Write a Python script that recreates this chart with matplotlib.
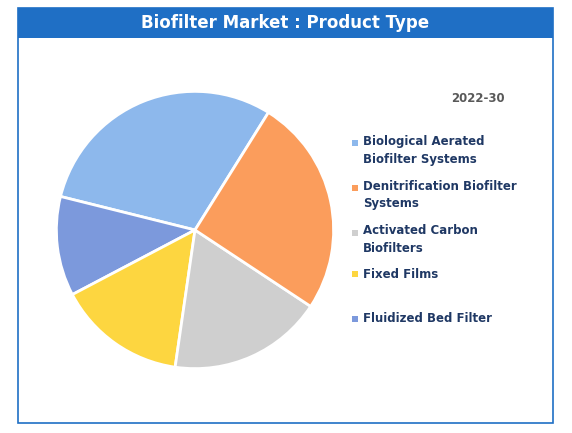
import matplotlib.pyplot as plt
from matplotlib.patches import Rectangle

# data
segments = ["Biological Aerated\nBiofilter Systems", "Denitrification Biofilter\nSystems",
            "Activated Carbon\nBiofilters", "Fixed Films", "Fluidized Bed Filter"]
shares = [30, 25.4, 18, 15, 11.6]
colors = ["#8db8ec", "#fb9d5c", "#cfcfcf", "#fdd640", "#7c99dc"]

# pie drawn counterclockwise from the top-right edge of the first slice
pie_order = [0, 4, 3, 2, 1]

fig = plt.figure(figsize=(5.72, 4.33), dpi=100)
W, H = 572, 433

# frame + title band
fig.add_artist(Rectangle((18 / W, 1 - 423 / H), 535 / W, 415 / H, transform=fig.transFigure,
                         fill=False, edgecolor="#1f6fc5", linewidth=1.2))
fig.add_artist(Rectangle((18 / W, 1 - 38 / H), 535 / W, 30 / H, transform=fig.transFigure,
                         facecolor="#1f6fc5", edgecolor="none"))
fig.text(285 / W, 1 - 23 / H, "Biofilter Market : Product Type", ha="center", va="center",
         color="white", fontsize=12, fontweight="bold")

# pie
ax = fig.add_axes([(195 - 140) / W, 1 - (230 + 140) / H, 280 / W, 280 / H])
ax.pie([shares[i] for i in pie_order], colors=[colors[i] for i in pie_order],
       startangle=58, counterclock=True, radius=1,
       wedgeprops=dict(edgecolor="white", linewidth=2))
ax.set_xlim(-1.01, 1.01)
ax.set_ylim(-1.01, 1.01)
ax.set_aspect("equal")

fig.text(505 / W, 1 - 98 / H, "2022-30", ha="right", va="center", color="#595959",
         fontsize=8.5, fontweight="bold")

# legend
ys = [150, 195, 240, 274, 319]
for lab, col, y in zip(segments, colors, ys):
    off = -7 if "\n" in lab else 0
    fig.add_artist(Rectangle((352 / W, 1 - (y + off + 3) / H), 6 / W, 6 / H,
                             transform=fig.transFigure, facecolor=col, edgecolor="none"))
    fig.text(363 / W, 1 - y / H, lab, ha="left", va="center", color="#1f3864",
             fontsize=8.5, fontweight="bold", linespacing=1.5)

fig.savefig("out.png", dpi=100)
